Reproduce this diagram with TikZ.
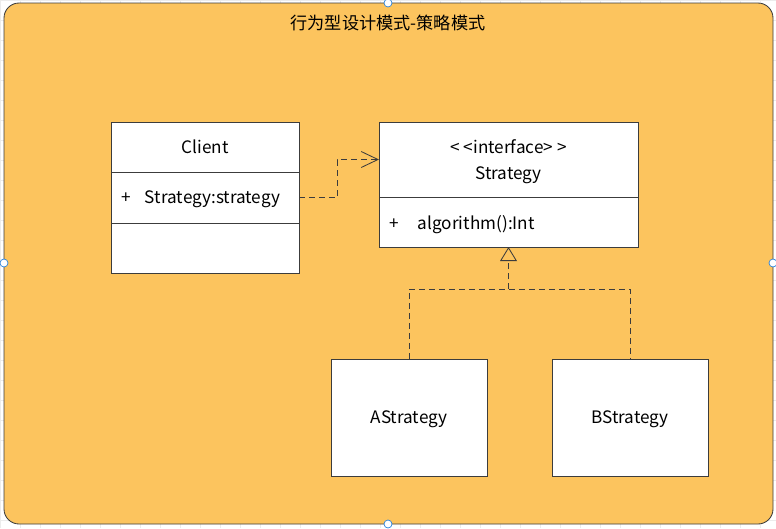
\documentclass[tikz,border=0pt]{standalone}
\usepackage{fontspec}
\setmainfont{Noto Sans CJK SC}
\usepackage{tikz}
\usetikzlibrary{arrows.meta, positioning}
\definecolor{panelorange}{RGB}{252,196,94}
\definecolor{linegray}{RGB}{60,60,60}
\definecolor{handleblue}{RGB}{40,130,220}

\begin{document}
\begin{tikzpicture}[
    x=0.025cm, y=-0.025cm,
    font=\fontsize{12.2}{14}\selectfont,
    classpart/.style={draw=linegray, fill=white, line width=0.6pt, outer sep=0pt, inner sep=0pt, align=center, text depth=0pt},
    member/.style={classpart, align=left, text width=#1},
    dashline/.style={draw=linegray, line width=0.6pt, dash pattern=on 0.15cm off 0.1cm},
    handle/.style={circle, draw=handleblue, fill=white, line width=0.5pt, minimum size=0.2cm, inner sep=0pt},
]
\useasboundingbox (0,0) rectangle (776,528);
% faint grid behind the panel
\foreach \gx in {0,20,...,780} \draw[gray!15, line width=0.3pt] (\gx,0) -- (\gx,528);
\foreach \gy in {0,20,...,520} \draw[gray!15, line width=0.3pt] (0,\gy) -- (776,\gy);

% panel
\draw[draw=linegray, fill=panelorange, line width=0.6pt, rounded corners=0.375cm] (4,3) rectangle (773,524);
\node (title) at (388,23) {行为型设计模式-策略模式};

% Client class
\node[classpart, minimum width=4.7cm, minimum height=1.25cm] (client) at (205,147) {Client};
\node[member=4.7cm, minimum height=1.275cm, below=0pt of client] (clientattr)
    {\hspace{0.275cm}\makebox[0.575cm][l]{+}Strategy:strategy};
\node[classpart, minimum width=4.7cm, minimum height=1.25cm, below=0pt of clientattr] (clientops) {};

% Strategy interface
\node[classpart, minimum width=6.475cm, minimum height=1.875cm] (strategy) at (508.5,159.5)
    {<\kern3pt<interface>\kern3pt>\\[5pt]Strategy};
\node[member=6.475cm, minimum height=1.25cm, below=0pt of strategy] (strategyops)
    {\hspace{0.275cm}\makebox[0.7cm][l]{+}algorithm():Int};

% concrete strategies
\node[classpart, minimum width=3.9cm, minimum height=2.925cm] (astrategy) at (409,417.5) {AStrategy};
\node[classpart, minimum width=3.9cm, minimum height=2.925cm] (bstrategy) at (630,417.5) {BStrategy};

% dependency
\draw[dashline, -{Straight Barb[length=0.42cm, width=0.4cm, line width=0.6pt]}]
    (clientattr.east) -- ++(38,0) |- (strategy.west);

% realization
\path (strategyops.south) ++(0,42) coordinate (fork);
\draw[dashline] (astrategy.north) |- (fork) -| (bstrategy.north);
\draw[dashline, -{Triangle[open, length=0.35cm, width=0.42cm, line width=0.6pt]}]
    (fork) -- (strategyops.south);

% selection handles
\node[handle] (htop) at (388,3) {};
\node[handle] (hleft) at (4,263) {};
\node[handle] (hright) at (773,263) {};
\node[handle] (hbottom) at (388,524) {};
\end{tikzpicture}
\end{document}
